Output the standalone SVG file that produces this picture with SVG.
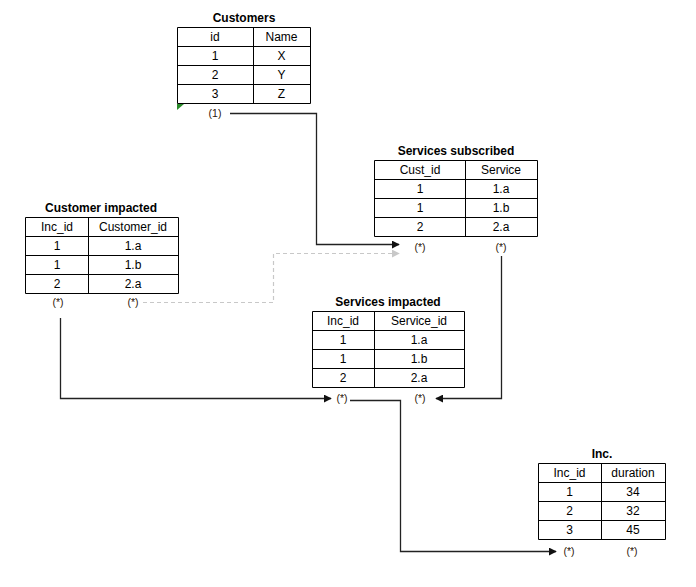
<svg xmlns="http://www.w3.org/2000/svg" width="696" height="587" viewBox="0 0 696 587">
<style>
.t{font-family:"Liberation Sans",Arial,sans-serif;font-size:12px;fill:#000;text-anchor:middle}
.h{font-family:"Liberation Sans",Arial,sans-serif;font-size:12px;font-weight:bold;fill:#000;text-anchor:middle}
.m{font-family:"Liberation Sans",Arial,sans-serif;font-size:10.5px;fill:#2a1508;text-anchor:middle}
.g{fill:none;stroke:#000;stroke-width:1}
.c{fill:none;stroke:#222;stroke-width:1.3}
.d{fill:none;stroke:#c8c8c8;stroke-width:1.2;stroke-dasharray:4,3}
</style>
<defs>
<marker id="a" viewBox="0 0 10 10" refX="9" refY="5" markerWidth="8" markerHeight="8" markerUnits="userSpaceOnUse" orient="auto"><path d="M0,0L10,5L0,10z" fill="#111"/></marker>
<marker id="al" viewBox="0 0 10 10" refX="9" refY="5" markerWidth="8" markerHeight="8" markerUnits="userSpaceOnUse" orient="auto"><path d="M0,0L10,5L0,10z" fill="#c8c8c8"/></marker>
</defs>
<rect width="696" height="587" fill="#fff"/>

<g id="customers">
<text class="h" x="244" y="22">Customers</text>
<path class="g" d="M177.5,27.5H310.5V103.5H177.5Z M253.5,27.5V103.5 M177.5,46.5H310.5 M177.5,65.5H310.5 M177.5,84.5H310.5"/>
<text class="t" x="215" y="41">id</text><text class="t" x="281.5" y="41">Name</text>
<text class="t" x="215" y="60">1</text><text class="t" x="281.5" y="60">X</text>
<text class="t" x="215" y="79">2</text><text class="t" x="281.5" y="79">Y</text>
<text class="t" x="215" y="98">3</text><text class="t" x="281.5" y="98">Z</text>
<polygon points="177,104 184,104 177,110" fill="#2a8a2a"/>
<text class="m" x="215" y="117">(1)</text>
</g>

<g id="services-subscribed">
<text class="h" x="456" y="155">Services subscribed</text>
<path class="g" d="M374.5,160.5H537.5V236.5H374.5Z M465.5,160.5V236.5 M374.5,179.5H537.5 M374.5,198.5H537.5 M374.5,217.5H537.5"/>
<text class="t" x="420" y="174">Cust_id</text><text class="t" x="501" y="174">Service</text>
<text class="t" x="420" y="193">1</text><text class="t" x="501" y="193">1.a</text>
<text class="t" x="420" y="212">1</text><text class="t" x="501" y="212">1.b</text>
<text class="t" x="420" y="231">2</text><text class="t" x="501" y="231">2.a</text>
<text class="m" x="420" y="251">(*)</text>
<text class="m" x="501" y="251">(*)</text>
</g>

<g id="customer-impacted">
<text class="h" x="101" y="212">Customer impacted</text>
<path class="g" d="M25.5,217.5H178.5V293.5H25.5Z M88.5,217.5V293.5 M25.5,236.5H178.5 M25.5,255.5H178.5 M25.5,274.5H178.5"/>
<text class="t" x="57" y="231">Inc_id</text><text class="t" x="133" y="231">Customer_id</text>
<text class="t" x="57" y="250">1</text><text class="t" x="133" y="250">1.a</text>
<text class="t" x="57" y="269">1</text><text class="t" x="133" y="269">1.b</text>
<text class="t" x="57" y="288">2</text><text class="t" x="133" y="288">2.a</text>
<text class="m" x="58" y="306">(*)</text>
<text class="m" x="133" y="306">(*)</text>
</g>

<g id="services-impacted">
<text class="h" x="388" y="306">Services impacted</text>
<path class="g" d="M312.5,311.5H464.5V387.5H312.5Z M374.5,311.5V387.5 M312.5,330.5H464.5 M312.5,349.5H464.5 M312.5,368.5H464.5"/>
<text class="t" x="343" y="325">Inc_id</text><text class="t" x="419" y="325">Service_id</text>
<text class="t" x="343" y="344">1</text><text class="t" x="419" y="344">1.a</text>
<text class="t" x="343" y="363">1</text><text class="t" x="419" y="363">1.b</text>
<text class="t" x="343" y="382">2</text><text class="t" x="419" y="382">2.a</text>
<text class="m" x="342" y="402">(*)</text>
<text class="m" x="420" y="402">(*)</text>
</g>

<g id="inc">
<text class="h" x="602" y="458">Inc.</text>
<path class="g" d="M538.5,463.5H665.5V539.5H538.5Z M601.5,463.5V539.5 M538.5,482.5H665.5 M538.5,501.5H665.5 M538.5,520.5H665.5"/>
<text class="t" x="569.5" y="477">Inc_id</text><text class="t" x="633" y="477">duration</text>
<text class="t" x="569.5" y="496">1</text><text class="t" x="633" y="496">34</text>
<text class="t" x="569.5" y="515">2</text><text class="t" x="633" y="515">32</text>
<text class="t" x="569.5" y="534">3</text><text class="t" x="633" y="534">45</text>
<text class="m" x="569" y="555">(*)</text>
<text class="m" x="632" y="555">(*)</text>
</g>

<g id="connectors">
<path class="c" d="M230,113.5H316.5V244.5H399" marker-end="url(#a)"/>
<path class="d" d="M143,302.5H273.5V253.5H399" marker-end="url(#al)"/>
<path class="c" d="M501.5,256V398.5H436" marker-end="url(#a)"/>
<path class="c" d="M60.5,318V398.5H331" marker-end="url(#a)"/>
<path class="c" d="M350,400.5H400.5V551.5H556" marker-end="url(#a)"/>
</g>
</svg>
